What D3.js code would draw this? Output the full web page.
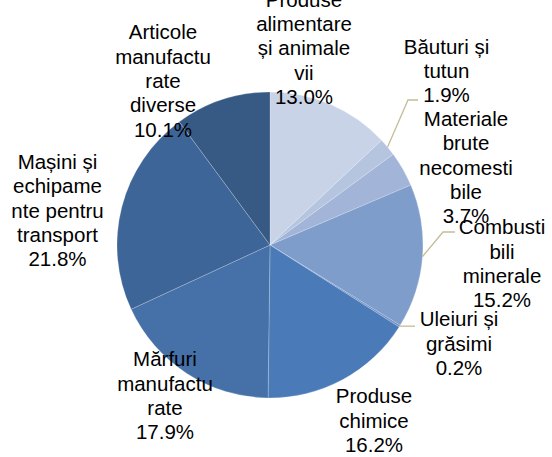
<!DOCTYPE html>
<html>
<head>
<meta charset="utf-8">
<script src="https://cdn.jsdelivr.net/npm/d3@7"></script>
<style>
  body { margin: 0; background: #fff; }
  text { font-family: "Liberation Sans", Arial, sans-serif; font-size: 20.5px; fill: #000; }
</style>
</head>
<body>
<div id="chart-area"></div>
<script>
const width = 552;
const height = 457;

// data
const categories = [
    ["Produse", "alimentare", "și animale", "vii"],
    ["Băuturi și", "tutun"],
    ["Materiale", "brute", "necomesti", "bile"],
    ["Combusti", "bili", "minerale"],
    ["Uleiuri și", "grăsimi"],
    ["Produse", "chimice"],
    ["Mărfuri", "manufactu", "rate"],
    ["Mașini și", "echipame", "nte pentru", "transport"],
    ["Articole", "manufactu", "rate", "diverse"]
];
const values = [13.0, 1.9, 3.7, 15.2, 0.2, 16.2, 17.9, 21.8, 10.1];
const colors = ["#c8d3e7", "#b6c5df", "#a2b5d8", "#7f9dcb", "#6b8ec4", "#4a7bb8", "#4571a8", "#3e6597", "#365a84"];

// label layout: centre x, centre y of first line, leader line (elbow point, end x)
const labelPos = [
    {x: 304, y: -0.5},
    {x: 446.5, y: 46.4, elbow: [408, 100], end: 418},
    {x: 466, y: 118.8},
    {x: 502, y: 227, elbow: [443, 232], end: 455},
    {x: 459, y: 319, elbow: null, end: 415},
    {x: 374, y: 396},
    {x: 165, y: 359},
    {x: 57.5, y: 161.7},
    {x: 163, y: 32}
];
const lineStep = 24.3;

const cx = 270, cy = 245, radius = 153;

const svg = d3.select("#chart-area")
    .append("svg")
    .attr("width", width)
    .attr("height", height);

const g = svg.append("g")
    .attr("transform", `translate(${cx},${cy})`);

const pie = d3.pie().sort(null).value(d => d);
const arcs = pie(values);

const arc = d3.arc().innerRadius(0).outerRadius(radius);

g.selectAll("path.slice")
    .data(arcs)
    .enter()
    .append("path")
    .attr("class", "slice")
    .attr("d", arc)
    .attr("fill", (d, i) => colors[i])
    .attr("stroke", "#ffffff")
    .attr("stroke-opacity", 0.35)
    .attr("stroke-width", 0.6);

// leader lines
arcs.forEach((d, i) => {
    const lp = labelPos[i];
    if (lp.end === undefined) return;
    const a = (d.startAngle + d.endAngle) / 2;
    const sx = cx + radius * Math.sin(a);
    const sy = cy - radius * Math.cos(a);
    const pts = [[sx, sy]];
    if (lp.elbow) {
        pts.push(lp.elbow);
        pts.push([lp.end, lp.elbow[1]]);
    } else {
        pts.push([lp.end, sy]);
    }
    svg.append("path")
        .attr("d", d3.line()(pts))
        .attr("fill", "none")
        .attr("stroke", "#c4bd97")
        .attr("stroke-width", 1.3);
});

// labels
arcs.forEach((d, i) => {
    const lp = labelPos[i];
    const lines = categories[i].concat([d3.format(".1f")(values[i]) + "%"]);
    const t = svg.append("text")
        .attr("text-anchor", "middle");
    lines.forEach((ln, k) => {
        t.append("tspan")
            .attr("x", lp.x)
            .attr("y", lp.y + k * lineStep + 7.3)
            .text(ln);
    });
});
</script>
</body>
</html>
